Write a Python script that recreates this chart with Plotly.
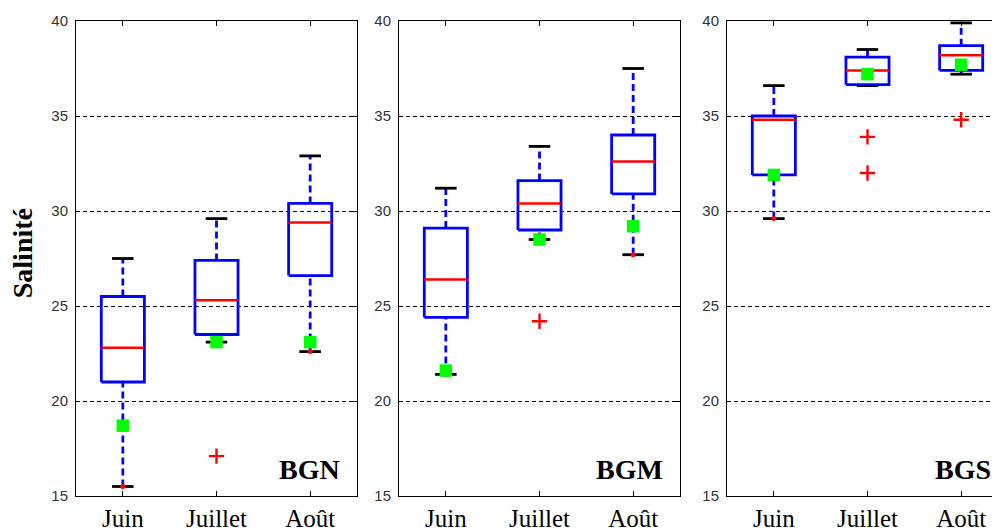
import plotly.graph_objects as go

# ---------------- data ----------------
months = ["Juin", "Juillet", "Août"]
stations = ["BGN", "BGM", "BGS"]
y_ticks = [15, 20, 25, 30, 35, 40]

# box statistics per station (Juin, Juillet, Août)
bgn_lower = [15.5, 23.1, 22.6]
bgn_q1 = [21.0, 23.5, 26.6]
bgn_median = [22.8, 25.3, 29.4]
bgn_q3 = [25.5, 27.4, 30.4]
bgn_upper = [27.5, 29.6, 32.9]
bgn_mean = [18.7, 23.1, 23.1]
bgn_out_month = [2]
bgn_out_value = [17.1]
bgn_dot_month = [1, 3]
bgn_dot_value = [15.5, 22.6]

bgm_lower = [21.4, 28.5, 27.7]
bgm_q1 = [24.4, 29.0, 30.9]
bgm_median = [26.4, 30.4, 32.6]
bgm_q3 = [29.1, 31.6, 34.0]
bgm_upper = [31.2, 33.4, 37.5]
bgm_mean = [21.6, 28.5, 29.2]
bgm_out_month = [2]
bgm_out_value = [24.2]
bgm_dot_month = [1, 3]
bgm_dot_value = [21.4, 27.7]

bgs_lower = [29.6, 36.6, 37.2]
bgs_q1 = [31.9, 36.65, 37.4]
bgs_median = [34.8, 37.4, 38.2]
bgs_q3 = [35.0, 38.1, 38.7]
bgs_upper = [36.6, 38.5, 39.9]
bgs_mean = [31.9, 37.2, 37.7]
bgs_out_month = [2, 2, 3]
bgs_out_value = [33.9, 32.0, 34.8]
bgs_dot_month = [1]
bgs_dot_value = [29.6]

panels = [
    dict(lower=bgn_lower, q1=bgn_q1, med=bgn_median, q3=bgn_q3, upper=bgn_upper,
         mean=bgn_mean, om=bgn_out_month, ov=bgn_out_value, dm=bgn_dot_month, dv=bgn_dot_value),
    dict(lower=bgm_lower, q1=bgm_q1, med=bgm_median, q3=bgm_q3, upper=bgm_upper,
         mean=bgm_mean, om=bgm_out_month, ov=bgm_out_value, dm=bgm_dot_month, dv=bgm_dot_value),
    dict(lower=bgs_lower, q1=bgs_q1, med=bgs_median, q3=bgs_q3, upper=bgs_upper,
         mean=bgs_mean, om=bgs_out_month, ov=bgs_out_value, dm=bgs_dot_month, dv=bgs_dot_value),
]

# ---------------- layout geometry ----------------
# (the page body adds an 8px offset, so figure coords = screen coords - 8)
OFF = 8
W, H = 1000, 530
ML = 76 - OFF
MT = 21 - OFF
MB = H - (496 - OFF)
MR = 0
PW = W - ML - MR
PANEL_W = 281
panel_left = [76 - OFF, 399 - OFF, 719]
domains = [((a - ML) / PW, min(1.0, (a + PANEL_W - ML) / PW)) for a in panel_left]

BOX_HW = 0.23
CAP_HW = 0.115
BLUE = "#0000ff"
RED = "#ff0000"
GREEN = "#00ff00"

fig = go.Figure()

for k, p in enumerate(panels):
    sfx = "" if k == 0 else str(k + 1)
    xa, ya = "x" + sfx, "y" + sfx
    n = len(months)
    xs = list(range(1, n + 1))

    wx, wy, cx, cy, bx, by, mx, my = [], [], [], [], [], [], [], []
    for i, x in enumerate(xs):
        wx += [x, x, None, x, x, None]
        wy += [p["q3"][i], p["upper"][i], None, p["lower"][i], p["q1"][i], None]
        cx += [x - CAP_HW, x + CAP_HW, None, x - CAP_HW, x + CAP_HW, None]
        cy += [p["upper"][i], p["upper"][i], None, p["lower"][i], p["lower"][i], None]
        bx += [x - BOX_HW, x + BOX_HW, x + BOX_HW, x - BOX_HW, x - BOX_HW, None]
        by += [p["q1"][i], p["q1"][i], p["q3"][i], p["q3"][i], p["q1"][i], None]
        mx += [x - BOX_HW, x + BOX_HW, None]
        my += [p["med"][i], p["med"][i], None]

    common = dict(xaxis=xa, yaxis=ya, showlegend=False, hoverinfo="skip")
    fig.add_trace(go.Scatter(x=wx, y=wy, mode="lines",
                             line=dict(color=BLUE, width=2.8, dash="7px,4px"), **common))
    fig.add_trace(go.Scatter(x=cx, y=cy, mode="lines",
                             line=dict(color="black", width=2.8), **common))
    fig.add_trace(go.Scatter(x=bx, y=by, mode="lines",
                             line=dict(color=BLUE, width=2.8), **common))
    fig.add_trace(go.Scatter(x=mx, y=my, mode="lines",
                             line=dict(color=RED, width=2.5), **common))
    fig.add_trace(go.Scatter(x=p["om"], y=p["ov"], mode="markers",
                             marker=dict(symbol="cross-thin", size=11,
                                         line=dict(color=RED, width=2.4)), **common))
    fig.add_trace(go.Scatter(x=p["dm"], y=p["dv"], mode="markers",
                             marker=dict(symbol="circle", size=5, color=RED), **common))
    fig.add_trace(go.Scatter(x=xs, y=p["mean"], mode="markers",
                             marker=dict(symbol="square", size=12.5, color=GREEN), **common))

    fig.update_layout({
        "xaxis" + sfx: dict(
            domain=list(domains[k]), anchor=ya, range=[0.5, 3.5],
            tickvals=xs, ticktext=months, ticks="inside", ticklen=5,
            tickcolor="black", showline=True, linecolor="black", linewidth=1,
            mirror="ticks", showgrid=False, zeroline=False,
            tickfont=dict(family="Liberation Serif", size=25, color="black"),
            ticklabelstandoff=0,
        ),
        "yaxis" + sfx: dict(
            domain=[0, 1], anchor=xa, range=[15, 40], tickvals=y_ticks,
            ticks="inside", ticklen=4, tickcolor="black",
            showline=True, linecolor="black", linewidth=1,
            mirror="ticks",
            showgrid=True, gridcolor="black", gridwidth=1, griddash="4px,3px",
            zeroline=False,
            tickfont=dict(family="Liberation Sans", size=15, color="#333"),
            ticklabelstandoff=4,
        ),
    })

    fig.add_annotation(text="<b>%s</b>" % stations[k], xref=xa + " domain", yref=ya + " domain",
                       x=1 - 15.0 / PANEL_W, y=0.018, xanchor="right", yanchor="bottom",
                       showarrow=False,
                       font=dict(family="Liberation Serif", size=28, color="black"))

fig.add_annotation(text="<b>Salinité</b>", xref="paper", yref="paper",
                   x=(22.5 - OFF - ML) / PW, y=0.51, textangle=-90, showarrow=False,
                   xanchor="center", yanchor="middle",
                   font=dict(family="Liberation Serif", size=28, color="black"))

fig.update_layout(width=W, height=H, margin=dict(l=ML, r=MR, t=MT, b=MB),
                  plot_bgcolor="white", paper_bgcolor="white")

fig.write_html("out.html")
